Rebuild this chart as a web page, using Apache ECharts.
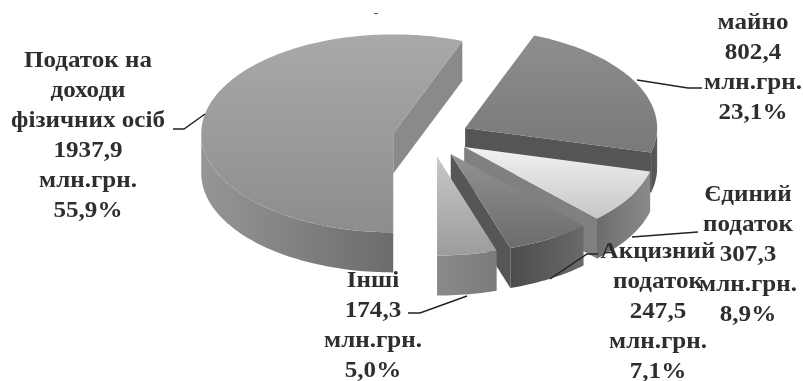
<!DOCTYPE html>
<html><head><meta charset="utf-8">
<style>html,body{margin:0;padding:0;background:#fff}#c{width:803px;height:381px;filter:blur(0.45px)}</style>
<script src="https://cdn.jsdelivr.net/npm/echarts@6/dist/echarts.min.js"></script>
</head><body><div id="c"></div>
<script>
// Data
const categories = ['Податок на\nдоходи\nфізичних осіб', 'майно', 'Єдиний\nподаток', 'Акцизний\nподаток', 'Інші'];
const values = [1937.9, 802.4, 307.3, 247.5, 174.3];
const amountLabels = ['1937,9', '802,4', '307,3', '247,5', '174,3'];
const percentLabels = ['55,9%', '23,1%', '8,9%', '7,1%', '5,0%'];
const unitLabel = 'млн.грн.';

// Styles
const topColors  = [['#a9a9a9','#8d8d8d'],['#8e8e8e','#797979'],['#f2f2f2','#c6c6c6'],['#929292','#6c6c6c'],['#c8c8c8','#9c9c9c']];
const rimColors  = [['#969696','#6c6c6c'],['#505050','#5a5a5a'],['#6c6c6c','#8a8a8a'],['#4c4c4c','#6a6a6a'],['#8a8a8a','#7a7a7a']];
const wallColors = ['#8a8a8a','#555555','#808080','#565656','#808080'];
const labelCentres = [[88,136],[753,68],[748,255],[658,312],[373,326]];
const leaders = [
  [[173,129],[184,129],[205,114]],
  [[637,80],[688,88],[702,88]],
  [[632,237],[698,232]],
  [[550,279],[587,254],[598,254]],
  [[408,313],[420,313],[467,296]]
];
const CX = 431, CY = 137, RX = 192, RY = 99, DEPTH = 40, EXPLODE = 0.2, START = 180;

const total = values.reduce((a, b) => a + b, 0);
const D2R = Math.PI / 180;
const spans = []; let acc = START;
values.forEach(v => { const s = v / total * 360; spans.push([acc, acc + s]); acc += s; });

const vGrad = c => new echarts.graphic.LinearGradient(0, 0, 0, 1, [{offset:0,color:c[0]},{offset:1,color:c[1]}]);
const hGrad = c => new echarts.graphic.LinearGradient(0, 0, 1, 0, [{offset:0,color:c[0]},{offset:1,color:c[1]}]);
const rim = (ax, ay, a) => [ax + RX * Math.sin(a * D2R), ay - RY * Math.cos(a * D2R)];
function arc(ax, ay, a, b) {
  const n = Math.max(2, Math.ceil(Math.abs(b - a) / 1.5)), out = [];
  for (let i = 0; i <= n; i++) out.push(rim(ax, ay, a + (b - a) * i / n));
  return out;
}
function renderSlice(params, api) {
  const i = params.dataIndex;
  api.value(0);
  let [a, b] = spans[i];
  if (a >= 360) { a -= 360; b -= 360; }
  const mid = (a + b) / 2;
  const ax = CX + EXPLODE * RX * Math.sin(mid * D2R);
  const ay = CY - EXPLODE * RY * Math.cos(mid * D2R);
  const children = [];
  const down = p => [p[0], p[1] + DEPTH];
  const wall = ang => {
    const e = rim(ax, ay, ang);
    children.push({ type:'polygon', shape:{ points:[[ax,ay], e, down(e), [ax,ay+DEPTH]] },
      style:{ fill:wallColors[i] } });
  };
  // flat walls facing the viewer
  if (Math.sin(b * D2R) > 0.01) wall(b);
  if (Math.sin(a * D2R) < -0.01) wall(a);
  // outer wall: only the near half (90..270 from north)
  const lo = Math.max(a, 90), hi = Math.min(b, 270);
  if (hi > lo) {
    const top = arc(ax, ay, lo, hi);
    const colours = rimColors[i];
    children.push({ type:'polygon', shape:{ points: top.concat(top.slice().reverse().map(down)) },
      style:{ fill: hGrad(colours) } });
  }
  // top face
  children.push({ type:'polygon', shape:{ points: [[ax,ay]].concat(arc(ax, ay, a, b)) },
    style:{ fill: vGrad(topColors[i]) } });
  return { type:'group', children };
}

const graphics = [];
leaders.forEach(pts => graphics.push({ type:'polyline', z:20, shape:{ points:pts },
  style:{ stroke:'#222', lineWidth:1.5, fill:null } }));
categories.forEach((name, i) => graphics.push({
  type:'text', z:30, x:labelCentres[i][0], y:labelCentres[i][1], scaleX:1.09,
  style:{ text:[name, amountLabels[i], unitLabel, percentLabels[i]].join('\n'),
    font:'bold 23px "Liberation Serif", serif', lineHeight:30, fill:'#2e2e2e',
    align:'center', verticalAlign:'middle' }
}));
graphics.push({ type:'text', z:30, x:376, y:14, style:{ text:'-', font:'bold 12px "Liberation Serif", serif', fill:'#333', align:'center', verticalAlign:'middle' } });

const chart = echarts.init(document.getElementById('c'), null, { renderer:'canvas', width:803, height:381 });
chart.setOption({
  animation:false,
  backgroundColor:'#ffffff',
  series:[{ type:'custom', coordinateSystem:'none', renderItem:renderSlice,
    data: values.map((v, i) => ({ name:categories[i], value:[v] })) }],
  graphic:{ elements:graphics }
});
</script></body></html>
